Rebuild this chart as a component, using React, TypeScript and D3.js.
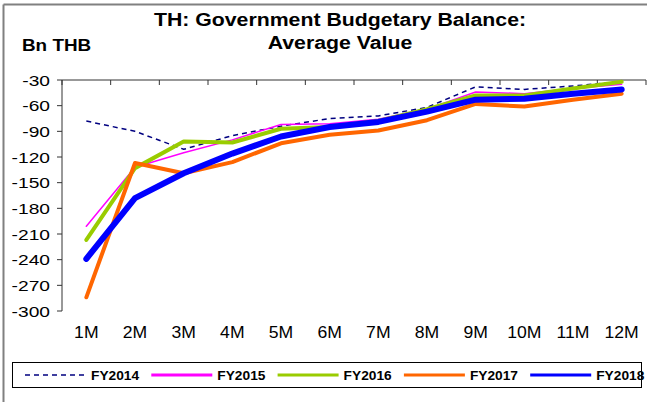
import React from "react";
import * as d3 from "d3";

const months = ["1M", "2M", "3M", "4M", "5M", "6M", "7M", "8M", "9M", "10M", "11M", "12M"];
const yTicks = [-30, -60, -90, -120, -150, -180, -210, -240, -270, -300];

const fy2014 = [-78, -90, -111, -95, -84, -75, -72, -62, -38, -41, -37, -32];
const fy2015 = [-201, -132, -115, -100, -82, -81, -76, -64, -44, -46, -40, -35];
const fy2016 = [-217, -133, -102, -103, -87, -85, -78, -64, -48, -48, -40, -32];
const fy2017 = [-284, -127, -139, -126, -104, -94, -89, -77, -58, -61, -53, -46];
const fy2018 = [-239, -168, -139, -116, -96, -85, -79, -67, -53, -52, -46, -41];

const series = [
  { name: "FY2014", values: fy2014, color: "#000080", width: 1.5, dash: "5,4" },
  { name: "FY2015", values: fy2015, color: "#FF00FF", width: 1.5, dash: null },
  { name: "FY2016", values: fy2016, color: "#99CC00", width: 4, dash: null },
  { name: "FY2017", values: fy2017, color: "#FF6600", width: 4, dash: null },
  { name: "FY2018", values: fy2018, color: "#0000FF", width: 6, dash: null },
];

const W = 647;
const H = 402;
const left = 62;
const right = 646;
const top = 80;
const bottom = 311;

// stretched text, the source picture is a bit wide
const SText = ({ x, y, sx = 1.15, anchor = "start", size, weight = "normal", children }: any) => (
  <text
    transform={`translate(${x},${y}) scale(${sx},1)`}
    textAnchor={anchor}
    fontSize={size}
    fontWeight={weight}
    fontFamily="Liberation Sans, Arial, sans-serif"
    fill="#000"
  >
    {children}
  </text>
);

export default function App() {
  const x = d3.scaleBand().domain(months).range([left, right]);
  const y = d3.scaleLinear().domain([-300, -30]).range([bottom, top]);

  const line = d3
    .line<number>()
    .x((_, i) => (x(months[i]) as number) + x.bandwidth() / 2)
    .y((d) => y(d));

  const edges = months.map((m) => x(m) as number).concat([right]);

  return (
    <svg width={W} height={H} style={{ position: "absolute", left: 0, top: 0, background: "#fff" }}>
      {/* outer frame */}
      <line x1={3.5} y1={4.5} x2={W} y2={4.5} stroke="#808080" strokeWidth={2} />
      <line x1={3.5} y1={4.5} x2={3.5} y2={H} stroke="#808080" strokeWidth={2} />

      <SText x={340} y={26} anchor="middle" size={18.5} weight="bold">
        TH: Government Budgetary Balance:
      </SText>
      <SText x={340} y={49} anchor="middle" size={18.5} weight="bold">
        Average Value
      </SText>
      <SText x={22} y={51} size={16} weight="bold" sx={1.18}>
        Bn THB
      </SText>

      {/* y axis */}
      <line x1={left} y1={top} x2={left} y2={bottom} stroke="#333" />
      {yTicks.map((t) => (
        <g key={t}>
          <line x1={left - 5} x2={left} y1={y(t)} y2={y(t)} stroke="#333" />
          <SText x={50} y={y(t) + 5.5} anchor="end" size={15} sx={1.28}>
            {t}
          </SText>
        </g>
      ))}

      {/* x axis on top */}
      <line x1={left} y1={top} x2={right} y2={top} stroke="#333" />
      {edges.map((e, i) => (
        <line key={i} x1={e} x2={e} y1={top} y2={top + 5} stroke="#333" />
      ))}
      {months.map((m) => (
        <SText key={m} x={(x(m) as number) + x.bandwidth() / 2} y={338} anchor="middle" size={16} sx={1.1}>
          {m}
        </SText>
      ))}

      {series.map((s) => (
        <path
          key={s.name}
          d={line(s.values) || ""}
          fill="none"
          stroke={s.color}
          strokeWidth={s.width}
          strokeDasharray={s.dash || undefined}
          strokeLinejoin="round"
          strokeLinecap={s.dash ? "butt" : "round"}
        />
      ))}

      {/* legend */}
      <rect x={12.5} y={362.5} width={629} height={25} fill="#fff" stroke="#000" />
      {series.map((s, i) => {
        const lx = 25 + i * 126.3;
        return (
          <g key={s.name}>
            <line
              x1={lx}
              x2={lx + 61}
              y1={375}
              y2={375}
              stroke={s.color}
              strokeWidth={s.dash ? 1.5 : 3}
              strokeDasharray={s.dash || undefined}
            />
            <SText x={lx + 66} y={379.5} size={12.5} weight="bold" sx={1.1}>
              {s.name}
            </SText>
          </g>
        );
      })}
    </svg>
  );
}
